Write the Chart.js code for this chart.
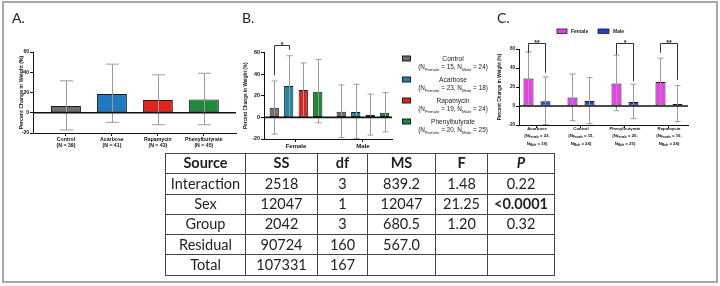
<!DOCTYPE html>
<html lang="en">
<head>
<meta charset="UTF-8">
<meta name="viewport" content="width=device-width, initial-scale=1.0">
<title>Percent change in weight by treatment and sex</title>
<script src="https://cdn.jsdelivr.net/npm/chart.js"></script>
<style>
    body { margin: 0; background: #fff; }
    .figure { position: relative; width: 720px; height: 286px; overflow: hidden; background: #fff; }
    .figure canvas { position: absolute; left: 0; top: 0; }
    .frame { position: absolute; left: 2px; top: 1px; width: 716px; height: 282px; box-sizing: border-box; border: 2px solid #a8a8a8; }
    .tag { position: absolute; font-family: 'Lato', sans-serif; font-size: 14px; color: #222; line-height: 1; }
    table.anova { position: absolute; left: 165px; top: 153px; width: 389px; border-collapse: collapse; table-layout: fixed;
                  font-family: 'Lato', sans-serif; font-size: 14.5px; color: #1e1e1e; }
    .anova td { border: 1px solid #474747; padding: 0; text-align: center; height: 19.3px; line-height: 1; }
    .anova tr:first-child td { font-weight: bold; }
</style>
</head>
<body>
<div class="figure">
    <div class="frame"></div>
    <canvas id="chartA" width="720" height="286"></canvas>
    <canvas id="chartB" width="720" height="286"></canvas>
    <canvas id="chartC" width="720" height="286"></canvas>
    <div class="tag" style="left:12px;top:11px">A.</div>
    <div class="tag" style="left:242px;top:11px">B.</div>
    <div class="tag" style="left:497px;top:11px">C.</div>
    <table class="anova" id="anova">
        <colgroup><col style="width:80px"><col style="width:72px"><col style="width:50px"><col style="width:68px"><col style="width:52px"><col style="width:67px"></colgroup>
    </table>
</div>

<script>
    const FONT = "'Liberation Sans', Arial, sans-serif";

    // Panel A: all mice per treatment
    const groups = ['Control', 'Acarbose', 'Rapamycin', 'Phenylbutyrate'];
    const nAll = [39, 41, 43, 45];
    const meanAll = [6.6, 18.4, 12.5, 13.2];
    const upperAll = [31.5, 48, 37.5, 39];
    const lowerAll = [-17, -9.5, -11.8, -11.8];

    // Panels B and C: split by sex (same group order as above)
    const sexes = ['Female', 'Male'];
    const nFemale = [15, 23, 19, 20];
    const nMale = [24, 18, 24, 25];
    const meanFemale = [9, 29, 25.3, 23.8];
    const upperFemale = [33.7, 57, 50.4, 53.5];
    const lowerFemale = [-15.5, 1, 1, -5];
    const meanMale = [5.2, 5, 2.1, 4.3];
    const upperMale = [30, 30.6, 21.6, 22.9];
    const lowerMale = [-18.6, -19.5, -16.4, -13.4];

    // Panel C lists groups alphabetically, with female vs male comparisons
    const orderC = [1, 0, 3, 2];
    const starsC = ['**', '', '*', '**'];
    const legFemaleC = [56, 0, 54, 56];
    const legMaleC = [35, 0, 26, 27.5];

    const yTicks = [-20, 0, 20, 40, 60];

    // ANOVA table
    const anovaHead = ['Source', 'SS', 'df', 'MS', 'F', 'P'];
    const anovaSource = ['Interaction', 'Sex', 'Group', 'Residual', 'Total'];
    const anovaSS = ['2518', '12047', '2042', '90724', '107331'];
    const anovaDf = ['3', '1', '3', '160', '167'];
    const anovaMS = ['839.2', '12047', '680.5', '567.0', ''];
    const anovaF = ['1.48', '21.25', '1.20', '', ''];
    const anovaP = ['0.22', '<0.0001', '0.32', '', ''];

    const colorsA = ['#6d6e71', '#1f7bbf', '#e2231a', '#1f8a3b'];
    const colorsB = ['#6d6e71', '#1a87a8', '#e2231a', '#17892f'];
    const colorsC = ['#f03cf0', '#1b3fe4'];

    const pts = arr => arr.map((v, i) => ({ x: i, y: v }));

    function richLine(ctx, parts, cx, base, size, weight) {
        const f = sub => `${weight} ${sub ? size * 0.68 : size}px ${FONT}`;
        let w = 0;
        parts.forEach((p, i) => { ctx.font = f(i % 2 === 1); w += ctx.measureText(p).width; });
        let x = cx - w / 2;
        ctx.textAlign = 'left';
        ctx.textBaseline = 'alphabetic';
        parts.forEach((p, i) => {
            const sub = i % 2 === 1;
            ctx.font = f(sub);
            ctx.fillText(p, x, base + (sub ? size * 0.28 : 0));
            x += ctx.measureText(p).width;
        });
    }

    // error bars, zero line and significance brackets
    const extras = {
        id: 'extras',
        afterDatasetsDraw(chart, args, o) {
            const { ctx, chartArea: a, scales: { y } } = chart;
            ctx.save();
            ctx.strokeStyle = '#9b9b9b';
            ctx.lineWidth = 1;
            chart.data.datasets.forEach((ds, di) => {
                chart.getDatasetMeta(di).data.forEach((bar, i) => {
                    const x = Math.round(bar.x) + 0.5, c = o.cap / 2;
                    const hi = y.getPixelForValue(ds.upper[i]), lo = y.getPixelForValue(ds.lower[i]);
                    ctx.beginPath();
                    ctx.moveTo(x, hi); ctx.lineTo(x, lo);
                    ctx.moveTo(x - c, hi); ctx.lineTo(x + c, hi);
                    ctx.moveTo(x - c, lo); ctx.lineTo(x + c, lo);
                    ctx.stroke();
                });
            });
            const z = y.getPixelForValue(0);
            ctx.strokeStyle = '#111';
            ctx.lineWidth = 1.6;
            ctx.beginPath(); ctx.moveTo(a.left, z); ctx.lineTo(a.right, z); ctx.stroke();

            o.brackets.forEach(b => {
                const x1 = Math.round(chart.getDatasetMeta(b.a).data[b.cat].x) + 0.5;
                const x2 = Math.round(chart.getDatasetMeta(b.b).data[b.cat].x) + 0.5;
                const t = Math.round(y.getPixelForValue(b.top)) + 0.5;
                ctx.strokeStyle = '#333';
                ctx.lineWidth = 1;
                ctx.beginPath();
                ctx.moveTo(x1, y.getPixelForValue(b.left));
                ctx.lineTo(x1, t); ctx.lineTo(x2, t);
                ctx.lineTo(x2, y.getPixelForValue(b.right));
                ctx.stroke();
                ctx.fillStyle = '#222';
                ctx.font = `bold 7px ${FONT}`;
                ctx.textAlign = 'center';
                ctx.textBaseline = 'alphabetic';
                ctx.fillText(b.text, (x1 + x2) / 2, t + 1);
            });
            ctx.restore();
        }
    };

    function panel(id, o) {
        const a = o.area;
        return new Chart(document.getElementById(id), {
            type: 'bar',
            data: { datasets: o.datasets },
            options: {
                responsive: false,
                animation: false,
                events: [],
                layout: { padding: { left: a.left - a.yw, right: 720 - a.right, top: a.top, bottom: 286 - a.bottom - a.xh } },
                datasets: { bar: { categoryPercentage: o.cp, barPercentage: o.bp, borderColor: '#1a1a1a', borderWidth: 1, borderSkipped: false } },
                plugins: {
                    legend: { display: false },
                    tooltip: { enabled: false },
                    extras: { cap: o.cap, brackets: o.brackets || [] }
                },
                scales: {
                    x: {
                        type: 'linear', min: o.xMin, max: o.xMax, offset: false,
                        afterBuildTicks: s => { s.ticks = o.labels.map((_, i) => ({ value: i })); },
                        afterFit: s => { s.height = a.xh; },
                        grid: { offset: false, drawOnChartArea: false, drawTicks: true, tickLength: 3, color: '#111' },
                        border: { color: '#111', width: 1 },
                        ticks: {
                            autoSkip: false, maxRotation: 0, padding: 1, color: '#111',
                            font: { family: FONT, size: o.xFont, weight: 'bold', lineHeight: 1.15 },
                            callback: (v, i) => o.labels[i]
                        }
                    },
                    y: {
                        min: yTicks[0], max: yTicks[yTicks.length - 1],
                        afterBuildTicks: s => { s.ticks = yTicks.map(v => ({ value: v })); },
                        afterFit: s => { s.width = a.yw; },
                        grid: { drawOnChartArea: false, tickLength: 3, color: '#111' },
                        border: { color: '#111', width: 1 },
                        ticks: { padding: 1, color: '#111', font: { family: FONT, size: o.yFont, weight: 'bold' } },
                        title: {
                            display: true, text: 'Percent Change in Weight (%)', padding: 0, color: '#111',
                            font: { family: FONT, size: o.titleFont, weight: 'bold' }
                        }
                    }
                }
            },
            plugins: [extras].concat(o.plugins || [])
        });
    }

    // A
    panel('chartA', {
        area: { left: 33, right: 236, top: 52, bottom: 133, yw: 15, xh: 20 },
        xMin: -0.717, xMax: 3.70, cp: 1, bp: 0.652, cap: 13,
        xFont: 5.2, yFont: 5, titleFont: 5.2,
        labels: groups.map((g, i) => [g, '(N = ' + nAll[i] + ')']),
        datasets: [{ data: pts(meanAll), backgroundColor: colorsA, upper: upperAll, lower: lowerAll }]
    });

    // B
    const legendB = {
        id: 'legendB',
        afterDraw(chart) {
            const ctx = chart.ctx;
            const rows = [58.5, 79.5, 100.5, 121.5];
            ctx.save();
            groups.forEach((g, k) => {
                ctx.fillStyle = colorsB[k];
                ctx.strokeStyle = '#1a1a1a';
                ctx.lineWidth = 1;
                ctx.fillRect(402.5, rows[k] - 2.5, 8, 5);
                ctx.strokeRect(402.5, rows[k] - 2.5, 8, 5);
                ctx.fillStyle = '#222';
                richLine(ctx, [g], 453, rows[k] + 2.3, 6.6, 'normal');
                richLine(ctx, ['(N', 'Female', ' = ' + nFemale[k] + ', N', 'Male', ' = ' + nMale[k] + ')'], 453, rows[k] + 10.8, 6.4, 'normal');
            });
            ctx.restore();
        }
    };
    panel('chartB', {
        area: { left: 264, right: 392, top: 52.5, bottom: 139, yw: 21, xh: 14 },
        xMin: -0.4776, xMax: 1.433, cp: 0.866, bp: 0.64, cap: 6,
        xFont: 6, yFont: 5.4, titleFont: 4.7,
        labels: sexes,
        datasets: groups.map((g, k) => ({
            label: g,
            data: pts([meanFemale[k], meanMale[k]]),
            backgroundColor: colorsB[k],
            upper: [upperFemale[k], upperMale[k]],
            lower: [lowerFemale[k], lowerMale[k]]
        })),
        brackets: [{ cat: 0, a: 0, b: 1, left: 39, right: 62.5, top: 67, text: '*' }],
        plugins: [legendB]
    });

    // C
    const labelsC = {
        id: 'labelsC',
        afterDraw(chart) {
            const ctx = chart.ctx, x = chart.scales.x;
            ctx.save();
            ctx.fillStyle = '#111';
            orderC.forEach((k, i) => {
                const cx = x.getPixelForValue(i);
                richLine(ctx, [groups[k]], cx, 129.5, 4.3, 'bold');
                richLine(ctx, ['(N', 'Female', ' = ' + nFemale[k] + ','], cx, 137, 4.3, 'bold');
                richLine(ctx, ['N', 'Male', ' = ' + nMale[k] + ')'], cx, 144.5, 4.3, 'bold');
            });
            // legend
            [[557, 10, 571], [598, 11, 613]].forEach((p, s) => {
                ctx.fillStyle = colorsC[s];
                ctx.strokeStyle = '#1a1a1a';
                ctx.lineWidth = 0.8;
                ctx.fillRect(p[0], 29, p[1], 4.5);
                ctx.strokeRect(p[0], 29, p[1], 4.5);
                ctx.fillStyle = '#222';
                ctx.font = `bold 5px ${FONT}`;
                ctx.textAlign = 'left';
                ctx.textBaseline = 'middle';
                ctx.fillText(sexes[s], p[2], 31.5);
            });
            ctx.restore();
        }
    };
    panel('chartC', {
        area: { left: 519, right: 688, top: 49, bottom: 125, yw: 22, xh: 22 },
        xMin: -0.409, xMax: 3.432, cp: 0.773, bp: 0.59, cap: 6,
        xFont: 4.3, yFont: 4.6, titleFont: 4.7,
        labels: orderC.map(() => ''),
        datasets: [
            { label: 'Female', data: pts(orderC.map(k => meanFemale[k])), backgroundColor: colorsC[0],
              upper: orderC.map(k => upperFemale[k]), lower: orderC.map(k => lowerFemale[k]) },
            { label: 'Male', data: pts(orderC.map(k => meanMale[k])), backgroundColor: colorsC[1],
              upper: orderC.map(k => upperMale[k]), lower: orderC.map(k => lowerMale[k]) }
        ],
        brackets: starsC.map((s, i) => s && { cat: i, a: 0, b: 1, left: legFemaleC[i], right: legMaleC[i], top: 66, text: s }).filter(Boolean),
        plugins: [labelsC]
    });

    // table
    const table = document.getElementById('anova');
    const rows = [anovaHead].concat(anovaSource.map((s, i) => [s, anovaSS[i], anovaDf[i], anovaMS[i], anovaF[i], anovaP[i]]));
    rows.forEach(r => {
        const tr = table.insertRow();
        r.forEach(v => {
            const td = tr.insertCell();
            td.textContent = v;
            if (v === 'P') td.style.fontStyle = 'italic';
            if (v.startsWith('<')) td.style.fontWeight = 'bold';
        });
    });
</script>
</body>
</html>
